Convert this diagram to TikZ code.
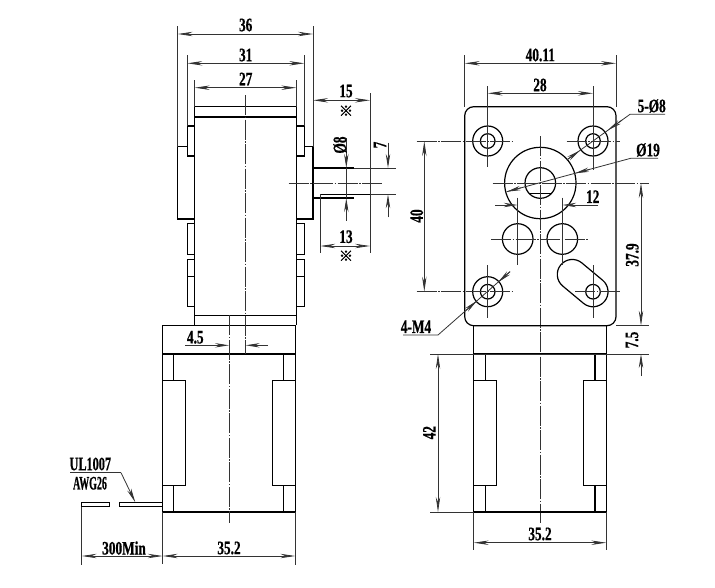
\documentclass[tikz,border=0pt]{standalone}
\usepackage{fontspec}
\newfontfamily\drawfont[FakeStretch=0.7,FakeBold=0.6]{Liberation Serif}
\newfontfamily\markfont[FakeBold=2.5]{Noto Sans CJK SC}
\usetikzlibrary{arrows.meta}
\tikzset{
    outline/.style={draw=black, line width=1.2pt},
    dimline/.style={draw=black!80, line width=0.8pt},
    measure/.style={dimline, {Stealth[length=15pt,width=4.4pt]}-{Stealth[length=15pt,width=4.4pt]}},
    pointer/.style={dimline, -{Stealth[length=14pt,width=4.4pt]}},
    axisline/.style={draw=black!80, line width=0.7pt, dash pattern=on 20pt off 1.5pt on 1.5pt off 1.5pt},
    size/.style={inner sep=0pt, font=\fontsize{19}{19}\drawfont\bfseries},
    sizeup/.style={size, rotate=90},
    refmark/.style={inner sep=0pt, text height=10pt, text depth=0pt, font=\fontsize{14}{14}\markfont}
}
\begin{document}
\begin{tikzpicture}[x=1pt, y=-1pt]
    \useasboundingbox (0,0) rectangle (715,587);
    % gearbox, side view
    \draw[outline] (194.7,106.7) rectangle (296.3,315.3);
    \draw[outline] (194.7,117) -- (296.3,117);
    \draw[outline] (194.7,315.3) -- (194.7,325.3) (296.3,315.3) -- (296.3,325.3);
    \draw[outline] (187.3,126) rectangle (194.7,156);
    \draw[outline] (304.3,126) rectangle (296.3,156);
    \draw[outline] (187.3,146.7) -- (177.7,146.7) -- (177.7,219) -- (194.7,219);
    \draw[outline] (304.3,146.7) -- (313,146.7) -- (313,219) -- (296.3,219);
    \foreach \x/\w in {187.3/194.7, 304.3/296.3}
    {
        \draw[outline] (\x,223.3) rectangle (\w,254.3);
        \draw[outline] (\x,259.3) rectangle (\w,306.7);
        \draw[outline] (\x,276.7) -- (\w,276.7);
    }
    % output shaft
    \draw[outline] (313,168) -- (353.7,168) (313,198) -- (353.7,198);
    \draw[dimline] (353.7,168) -- (396,168);
    \draw[outline] (320.3,194.3) -- (370,194.3);
    \draw[dimline] (370,194.3) -- (396,194.3);
    \draw[axisline] (288.7,183) -- (382,183);
    % motor, side view
    \draw[outline] (162.7,325.3) rectangle (295.3,512);
    \draw[outline] (162.7,354) -- (295.3,354);
    \draw[outline] (173.3,354) -- (173.3,380.3) (173.3,485.7) -- (173.3,512);
    \draw[outline] (283.7,354) -- (283.7,380.3) (283.7,485.7) -- (283.7,512);
    \draw[outline] (162.7,380.3) rectangle (185.3,485.7);
    \draw[outline] (272.3,380.3) rectangle (295.3,485.7);
    \draw[axisline] (245.7,95) -- (245.7,354);
    \draw[axisline] (229,315.3) -- (229,523);
    % wire
    \draw[outline] (119.3,502.3) rectangle (162.7,506.7);
    \draw[outline] (81.7,502.3) rectangle (109.7,506.7);
    % sizes of the side view
    \draw[dimline] (177.7,26) -- (177.7,146.7) (313,26) -- (313,146.7);
    \draw[measure] (177.7,34) -- (313,34);
    \node[size] (d36) at (245.7,25) {36};
    \draw[dimline] (187.3,55) -- (187.3,126) (304.3,55) -- (304.3,126);
    \draw[measure] (187.3,63.3) -- (304.3,63.3);
    \node[size] (d31) at (245.7,55) {31};
    \draw[dimline] (194.7,80) -- (194.7,106.7) (296.3,80) -- (296.3,106.7);
    \draw[measure] (194.7,87.7) -- (296.3,87.7);
    \node[size] (d27) at (245.7,79) {27};
    \draw[dimline] (370,93.3) -- (370,253.3) (320.3,194.3) -- (320.3,253.3);
    \draw[measure] (313,100.3) -- (370,100.3);
    \node[size] (d15) at (346,91) {15};
    \node[refmark] (m15) at (346,111) {※};
    \draw[measure] (320.3,246) -- (370,246);
    \node[size] (d13) at (346,236.7) {13};
    \node[refmark] (m13) at (346,256) {※};
    \draw[dimline] (346.3,168) -- (346.3,198);
    \draw[pointer] (346.3,138) -- (346.3,168);
    \draw[pointer] (346.3,220.7) -- (346.3,198);
    \node[sizeup] (d8) at (340,145) {Ø8};
    \draw[pointer] (388,142.7) -- (388,168);
    \draw[pointer] (388,217.3) -- (388,194.3);
    \node[sizeup] (d7) at (380,145) {7};
    \draw[pointer] (185,345.3) -- (229,345.3);
    \draw[pointer] (268,345.3) -- (245.7,345.3);
    \node[size] (d45) at (195.3,337.3) {4.5};
    \draw[dimline] (81.7,506.7) -- (81.7,565) (162.7,512) -- (162.7,564) (295.3,512) -- (295.3,565);
    \draw[measure] (81.7,556) -- (162.7,556);
    \draw[measure] (162.7,556) -- (295.3,556);
    \node[size] (d300) at (124,548) {300Min};
    \node[size] (d352) at (229,548) {35.2};
    \node[size, xscale=0.92] (ul) at (90.3,464) {UL1007};
    \node[size, xscale=0.75] (awg) at (90,483.3) {AWG26};
    \draw[dimline] (70,472.7) -- (121,472.7);
    \draw[pointer] (121,472.7) -- (135.3,502.3);
    % mounting plate, front view
    \draw[outline, rounded corners=9pt] (464.7,106.7) rectangle (616,325.7);
    \foreach \x/\y in {487.7/141, 593/141, 487.7/291.7}
    {
        \draw[outline] (\x,\y) circle (15);
        \draw[outline] (\x,\y) circle (7.3);
    }
    \draw[outline] (593,291.7) circle (7.3);
    \draw[outline] (540.3,183) circle (35.7);
    \draw[outline] (540.3,183) circle (15.3);
    \draw[outline] (529,193.3) -- (551.6,193.3);
    \foreach \x in {517.7,562.3}
        \draw[outline] (\x,239) circle (15.3);
    \draw[outline] (602.6,280.2) arc (-50.3:129.7:15) -- (562.7,286) arc (129.7:309.7:15) -- cycle;
    % centre lines, front view
    \draw[axisline] (416.7,141) -- (514,141) (566.7,141) -- (620,141);
    \draw[axisline] (416.7,291.7) -- (514,291.7) (575,291.7) -- (620,291.7);
    \draw[axisline] (492.7,183) -- (648.7,183);
    \draw[axisline] (491,239) -- (589,239);
    \draw[axisline] (540.3,136) -- (540.3,523);
    \draw[dimline] (487.7,86) -- (487.7,166.7) (593,86) -- (593,170);
    \draw[dimline] (487.7,265) -- (487.7,318) (593,265) -- (593,318);
    \draw[dimline] (517.7,197.7) -- (517.7,265) (562.3,197.7) -- (562.3,265);
    % motor, front view
    \draw[outline] (473.7,325.7) rectangle (606.3,512);
    \draw[outline] (473.7,354) -- (606.3,354);
    \draw[outline] (485.3,354) -- (485.3,380.3) (485.3,485.7) -- (485.3,512);
    \draw[outline] (595,354) -- (595,380.3) (595,485.7) -- (595,512);
    \draw[outline] (473.7,380.3) rectangle (496.7,485.7);
    \draw[outline] (583.7,380.3) rectangle (606.3,485.7);
    % sizes of the front view
    \draw[dimline] (464.7,55.3) -- (464.7,106.7) (616,55.3) -- (616,106.7);
    \draw[measure] (464.7,63.3) -- (616,63.3);
    \node[size] (d4011) at (540.3,55) {40.11};
    \draw[measure] (487.7,93.3) -- (593,93.3);
    \node[size] (d28) at (540,85) {28};
    \draw[measure] (424.3,141) -- (424.3,291.7);
    \node[sizeup] (d40) at (416.7,216) {40};
    \draw[dimline] (616,325.7) -- (648.7,325.7) (430,354) -- (648.7,354) (430,512) -- (473.7,512);
    \draw[measure] (641,183) -- (641,325.7);
    \node[sizeup] (d379) at (632.3,255) {37.9};
    \draw[pointer] (641,376) -- (641,354);
    \node[sizeup] (d75) at (632,340) {7.5};
    \draw[measure] (438,354) -- (438,512);
    \node[sizeup] (d42) at (429.3,432.7) {42};
    \draw[dimline] (473.7,512) -- (473.7,550) (606.3,512) -- (606.3,550);
    \draw[measure] (473.7,542.7) -- (606.3,542.7);
    \node[size] (d352b) at (540,534) {35.2};
    \draw[pointer] (495,205) -- (517.7,205);
    \draw[pointer] (598.3,205) -- (562.3,205);
    \node[size] (d12) at (592.7,196.7) {12};
    % leaders
    \node[size] (d58) at (651.7,106) {5-Ø8};
    \draw[dimline] (665,114.3) -- (630,114.3) -- (566.7,160);
    \draw[pointer] (622,120.1) -- (608,130.2);
    \draw[pointer] (567,159.8) -- (580,150.4);
    \node[size] (d19) at (648,150) {Ø19};
    \draw[dimline] (658,158.3) -- (630.7,158.3) -- (506.7,191.7);
    \draw[pointer] (590,169.3) -- (575,173.3);
    \draw[pointer] (521,187.8) -- (506.7,191.7);
    \node[size] (d4m4) at (416,326.7) {4-M4};
    \draw[dimline] (403,335) -- (438,335) -- (510,271.7);
    \draw[pointer] (510,271.7) -- (498,282.3);
    \draw[pointer] (466,310.4) -- (477,300.7);
\end{tikzpicture}
\end{document}
